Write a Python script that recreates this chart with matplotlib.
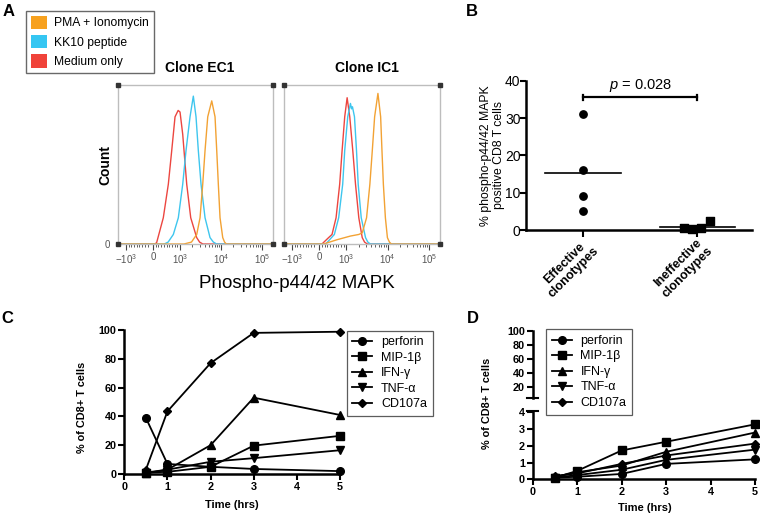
import numpy as np
import matplotlib
matplotlib.use('Agg')
import matplotlib.pyplot as plt
from matplotlib.lines import Line2D
from matplotlib.patches import Patch

plt.rcParams['font.family'] = ['Liberation Sans', 'DejaVu Sans']
plt.rcParams['mathtext.fontset'] = 'custom'
plt.rcParams['mathtext.rm'] = 'Liberation Sans'
plt.rcParams['mathtext.it'] = 'Liberation Sans:italic'

# ---------------- data ----------------
# Panel A: flow histograms (x = fluorescence, y = % of mode)
ec1_red_x = [-1566, 80, 137, 381, 567, 693, 815, 930, 1000, 1163, 1456, 1824, 2552, 3000, 3600, 185000]
ec1_red_y = [0, 0, 1, 16.5, 37.6, 58.8, 80, 84, 83, 69, 37.6, 16.5, 4, 1.2, 0, 0]
ec1_cyan_x = [-1566, 420, 560, 752, 937, 1163, 1400, 1754, 2110, 2455, 2793, 3251, 4073, 5393, 6500, 7800, 185000]
ec1_cyan_y = [0, 0, 1.2, 6, 16.5, 37.6, 58.8, 80, 93, 80, 58.8, 37.6, 16.5, 4, 1.2, 0, 0]
ec1_orange_x = [-1566, 1250, 1900, 2552, 3076, 3578, 4073, 4741, 5934, 7140, 7854, 8590, 9455, 11000, 12200, 13500, 185000]
ec1_orange_y = [0, 0, 1.2, 6, 16.5, 37.6, 58.8, 80, 90, 80, 58.8, 37.6, 16.5, 4, 1.2, 0, 0]

ic1_red_x = [-1566, 100, 344, 470, 619, 752, 841, 937, 1040, 1204, 1425, 1660, 1995, 2415, 2750, 3200, 185000]
ic1_red_y = [0, 0, 4, 6, 16.5, 37.6, 58.8, 80, 92, 80, 58.8, 37.6, 16.5, 4, 1.2, 0, 0]
ic1_cyan_x = [-1566, 240, 556, 715, 863, 937, 1076, 1252, 1330, 1400, 1567, 1754, 1928, 2284, 2904, 3300, 3800, 185000]
ic1_cyan_y = [0, 0, 6, 16.5, 37.6, 58.8, 80, 88.4, 85, 86.3, 80, 58.8, 37.6, 16.5, 4, 1.2, 0, 0]
ic1_orange_x = [-1566, 160, 656, 1252, 1995, 2415, 3076, 3698, 4236, 4822, 5798, 6745, 7261, 7854, 8790, 9840, 11000, 12300, 185000]
ic1_orange_y = [0, 0, 2.7, 5, 6, 7, 16.5, 37.6, 58.8, 80, 94.7, 80, 58.8, 37.6, 16.5, 4, 1.2, 0, 0]

legend_a_labels = ['PMA + Ionomycin', 'KK10 peptide', 'Medium only']
flow_ticks = [-1000, 0, 1000, 10000, 100000]
flow_ticklabels = [r'$-10^3$', '0', r'$10^3$', r'$10^4$', r'$10^5$']

# Panel B
groups = ['Effective\nclonotypes', 'Ineffective\nclonotypes']
effective = [31, 16, 9, 5]
ineffective = [0.6, 0.2, 0.45, 2.4]
p_text = r'$p$ = 0.028'

# Panel C / D
time_h = [0.5, 1, 2, 3, 5]
series_names = ['perforin', 'MIP-1β', 'IFN-γ', 'TNF-α', 'CD107a']
c_perforin = [39, 7, 5, 3.5, 2]
c_mip = [1, 1.5, 5, 19.7, 26.5]
c_ifn = [0.5, 3, 20, 53, 41]
c_tnf = [1, 3, 8.5, 11, 16.5]
c_cd107 = [3, 43.5, 77, 98, 98.8]
d_perforin = [0.1, 0.15, 0.32, 0.92, 1.19]
d_mip = [0.1, 0.5, 1.72, 2.24, 3.28]
d_ifn = [0.15, 0.42, 0.82, 1.64, 2.79]
d_tnf = [0.1, 0.25, 0.57, 1.16, 1.77]
d_cd107 = [0.2, 0.35, 0.92, 1.42, 2.13]

markers = ['o', 's', '^', 'v', 'D']
msizes = [5.5, 5.5, 5.5, 5.5, 4.2]

RED, CYAN, ORANGE = '#EC4640', '#3EC6EE', '#F2A234'

W, H = 760, 516
fig = plt.figure(figsize=(7.6, 5.16), dpi=100)


def px_rect(l, t, r, b):
    return [l / W, 1 - b / H, (r - l) / W, (b - t) / H]


# ---------------- Panel A ----------------
minor_ticks = ([-v for v in range(200, 1000, 100)] + list(range(100, 1000, 100)) +
               list(range(2000, 10000, 1000)) + list(range(20000, 100000, 10000)))


def flow_axes(rect, title, curves):
    ax = fig.add_axes(rect)
    ax.set_xscale('symlog', linthresh=1000, linscale=0.593)
    for x, y, c in curves:
        ax.plot(x, y, color=c, lw=1.0, clip_on=False)
    ax.set_xlim(-1566, 185000)
    ax.set_ylim(0, 100)
    for s in ax.spines.values():
        s.set_color('#bdbdbd')
        s.set_linewidth(1.0)
    ax.set_xticks(flow_ticks)
    ax.set_xticklabels(flow_ticklabels, fontsize=7, color='#555555')
    ax.set_xticks(minor_ticks, minor=True)
    ax.tick_params(axis='x', which='major', length=4, width=0.8, color='#444444', pad=2)
    ax.tick_params(axis='x', which='minor', length=2, width=0.6, color='#444444')
    ax.set_yticks([0])
    ax.set_yticklabels(['0'], fontsize=7, color='#555555')
    ax.tick_params(axis='y', length=0, pad=6)
    ax.plot([0, 1, 0, 1], [0, 0, 1, 1], 's', color='#333333', ms=3.2,
            transform=ax.transAxes, clip_on=False, zorder=6)
    ax.text(0.53, 1.06, title, transform=ax.transAxes, ha='center', va='bottom',
            fontsize=10, fontweight='bold')
    return ax


axA1 = flow_axes(px_rect(118, 85, 273, 244), 'Clone EC1',
                 [(ec1_red_x, ec1_red_y, RED), (ec1_cyan_x, ec1_cyan_y, CYAN),
                  (ec1_orange_x, ec1_orange_y, ORANGE)])
axA2 = flow_axes(px_rect(284, 85, 440, 244), 'Clone IC1',
                 [(ic1_red_x, ic1_red_y, RED), (ic1_cyan_x, ic1_cyan_y, CYAN),
                  (ic1_orange_x, ic1_orange_y, ORANGE)])
axA2.set_yticks([])

fig.text(105 / W, 1 - 165 / H, 'Count', rotation=90, ha='center', va='center',
         fontsize=10, fontweight='bold')
fig.text(297 / W, 1 - 283 / H, 'Phospho-p44/42 MAPK', ha='center', va='center', fontsize=13.5)

leg_a = fig.legend(handles=[Patch(facecolor='#F7A11E', edgecolor='none'),
                            Patch(facecolor='#35C6F2', edgecolor='none'),
                            Patch(facecolor='#F0433A', edgecolor='none')],
                   labels=legend_a_labels, loc='upper left',
                   bbox_to_anchor=(26 / W, 1 - 10.7 / H), borderaxespad=0,
                   fontsize=8.7, handlelength=1.35, handleheight=1.35, handletextpad=0.6,
                   labelspacing=0.45, borderpad=0.4, fancybox=False, frameon=True)
leg_a.get_frame().set_edgecolor('#444444')
leg_a.get_frame().set_linewidth(1.0)

# ---------------- Panel B ----------------
axB = fig.add_axes(px_rect(526, 80.7, 752, 230))
n_in = len(ineffective)
jitter = np.linspace(-0.12, 0.11, n_in)
axB.scatter(np.zeros(len(effective)), effective, marker='o', s=28, color='k', zorder=3, clip_on=False)
axB.scatter(1 + jitter, ineffective, marker='s', s=28, color='k', zorder=3, clip_on=False)
axB.plot([-0.33, 0.33], [np.mean(effective)] * 2, color='k', lw=1.2)
axB.plot([0.67, 1.33], [np.mean(ineffective)] * 2, color='k', lw=1.2)
axB.plot([0, 1], [35.5, 35.5], color='k', lw=1.6)
axB.plot([0, 0], [34.7, 36.3], color='k', lw=1.6)
axB.plot([1, 1], [34.7, 36.3], color='k', lw=1.6)
axB.text(0.5, 36.5, p_text, ha='center', va='bottom', fontsize=10.5)
axB.set_xlim(-0.5, 1.48)
axB.set_ylim(0, 40)
axB.set_yticks([0, 10, 20, 30, 40])
axB.set_xticks([0, 1])
axB.set_xticklabels(groups, rotation=45, ha='right', va='top', rotation_mode='anchor',
                    fontsize=9, fontweight='bold', multialignment='center')
axB.tick_params(axis='y', labelsize=10, length=4, width=1.5, pad=0)
axB.tick_params(axis='x', length=5, width=1.5, pad=-1)
for s in ['top', 'right']:
    axB.spines[s].set_visible(False)
for s in ['left', 'bottom']:
    axB.spines[s].set_linewidth(1.8)
axB.set_ylabel('% phospho-p44/42 MAPK\npositive CD8 T cells', fontsize=8.8,
               linespacing=1.15)
axB.yaxis.set_label_coords((505 - 526) / 226, 0.5)

# ---------------- Panel C ----------------
axC = fig.add_axes(px_rect(124.3, 330, 340, 474))
c_series = [c_perforin, c_mip, c_ifn, c_tnf, c_cd107]
for vals, m, ms in zip(c_series, markers, msizes):
    axC.plot(time_h, vals, marker=m, color='k', lw=1.3, ms=ms, clip_on=False)
axC.set_xlim(0, 5)
axC.set_ylim(0, 100)
axC.set_xticks(range(0, 6))
axC.set_yticks(range(0, 101, 20))


def style_prism(ax):
    for s in ['top', 'right']:
        ax.spines[s].set_visible(False)
    for s in ['left', 'bottom']:
        ax.spines[s].set_linewidth(1.8)
    ax.tick_params(length=4, width=1.5, labelsize=7.8, pad=1.5)
    for lab in ax.get_xticklabels() + ax.get_yticklabels():
        lab.set_fontweight('bold')


style_prism(axC)
fig.text(82 / W, 1 - 407 / H, '% of CD8+ T cells', rotation=90, ha='center', va='center',
         fontsize=7.8, fontweight='bold')
fig.text(232 / W, 1 - 505 / H, 'Time (hrs)', ha='center', va='center',
         fontsize=8, fontweight='bold')

handles = [Line2D([], [], color='k', marker=m, ms=ms, lw=1.3) for m, ms in zip(markers, msizes)]
for anchor in [(346.7 / W, 1 - 330.7 / H), (546 / W, 1 - 329.3 / H)]:
    lg = fig.legend(handles=handles, labels=series_names, loc='upper left',
                    bbox_to_anchor=anchor, borderaxespad=0, fontsize=9,
                    handlelength=1.6, handletextpad=0.7, labelspacing=0.28,
                    borderpad=0.45, fancybox=False, frameon=True)
    lg.get_frame().set_edgecolor('#333333')
    lg.get_frame().set_linewidth(0.9)

# ---------------- Panel D ----------------
axD = fig.add_axes(px_rect(532.7, 410.6, 755, 479.3))
axDt = fig.add_axes(px_rect(532.7, 330.7, 755, 398.3))
d_series = [d_perforin, d_mip, d_ifn, d_tnf, d_cd107]
for vals, m, ms in zip(d_series, markers, msizes):
    axD.plot(time_h, vals, marker=m, color='k', lw=1.3, ms=ms, clip_on=False)
axD.set_xlim(0, 5)
axD.set_ylim(0, 4.1)
axD.set_xticks(range(0, 6))
axD.set_yticks(range(0, 5))
style_prism(axD)

axDt.set_xlim(0, 5)
axDt.set_ylim(4, 100)
axDt.set_yticks(range(20, 101, 20))
axDt.set_xticks([])
axDt.patch.set_alpha(0)
style_prism(axDt)
axDt.spines['bottom'].set_visible(False)
for a, yy in [(axDt, 0), (axD, 1)]:
    a.plot([-0.025, 0.025], [yy, yy], color='k', lw=1.5, transform=a.transAxes, clip_on=False)

fig.text(487 / W, 1 - 403 / H, '% of CD8+ T cells', rotation=90, ha='center', va='center',
         fontsize=7.8, fontweight='bold')
fig.text(645 / W, 1 - 508 / H, 'Time (hrs)', ha='center', va='center',
         fontsize=8, fontweight='bold')

# panel letters
for lab, x, y in [('A', 3, 4), ('B', 466, 4), ('C', 1, 311), ('D', 467, 311)]:
    fig.text(x / W, 1 - y / H, lab, ha='left', va='top', fontsize=12, fontweight='bold')

fig.savefig('out.png', dpi=100)
